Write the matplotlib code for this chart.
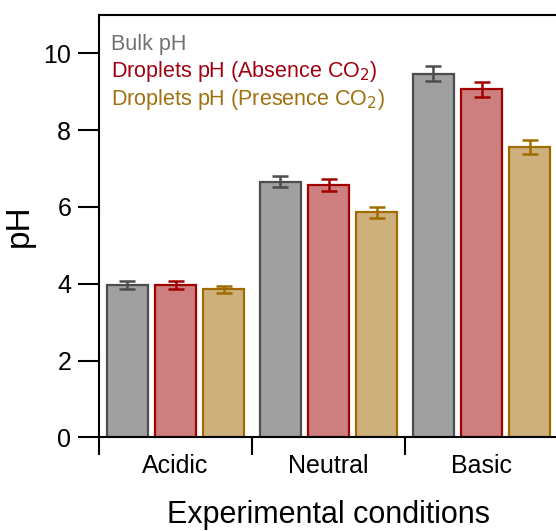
import numpy as np
import matplotlib
matplotlib.use("Agg")
import matplotlib.pyplot as plt

plt.rcParams['font.family'] = ['Liberation Sans', 'DejaVu Sans']

conditions = ["Acidic", "Neutral", "Basic"]
series_names = ["Bulk pH", "Droplets pH (Absence CO$_2$)", "Droplets pH (Presence CO$_2$)"]
bulk_ph = [3.97, 6.66, 9.47]
bulk_err = [0.10, 0.15, 0.19]
abs_ph = [3.97, 6.57, 9.06]
abs_err = [0.10, 0.15, 0.19]
pres_ph = [3.86, 5.86, 7.56]
pres_err = [0.09, 0.14, 0.18]

fills = ["#a0a0a0", "#cd7f7f", "#cdb07c"]
edges = ["#4d4d4d", "#a00000", "#a06c00"]
text_colors = ["#707070", "#a00010", "#a07010"]

fig = plt.figure(figsize=(5.56, 5.31), dpi=100)
ax = fig.add_axes([99 / 556, 1 - 437.3 / 531, 459 / 556, (437.3 - 15) / 531])

x = np.arange(len(conditions))
width = 0.265
offsets = [-0.315, 0.0, 0.315]
values = [bulk_ph, abs_ph, pres_ph]
errors = [bulk_err, abs_err, pres_err]

handles = []
for i in range(3):
    b = ax.bar(x + offsets[i], values[i], width, color=fills[i], edgecolor=edges[i],
               linewidth=1.6, label=series_names[i], zorder=2)
    ax.errorbar(x + offsets[i], values[i], yerr=errors[i], fmt="none", ecolor=edges[i],
                elinewidth=1.8, capsize=6, capthick=1.8, zorder=3)
    handles.append(b)

ax.set_xlim(-0.5, 2.5)
ax.set_ylim(0, 11)
ax.set_yticks([0, 2, 4, 6, 8, 10])

# boundaries get the tick marks, the centres get the labels
ax.set_xticks([-0.5, 0.5, 1.5, 2.5])
ax.set_xticklabels([])
ax.set_xticks(x, minor=True)
ax.set_xticklabels(conditions, minor=True)
ax.tick_params(axis="x", which="minor", length=0, labelsize=18, pad=12)
ax.tick_params(axis="x", which="major", direction="out", length=13, width=1.5)
ax.tick_params(axis="y", direction="out", length=15, width=1.5, labelsize=18, pad=5)

for s in ax.spines.values():
    s.set_linewidth(1.5)

ax.set_ylabel("pH", fontsize=24, labelpad=6)
ax.set_xlabel("Experimental conditions", fontsize=22, labelpad=16)

leg = ax.legend(handles=handles, loc="upper left", frameon=False, fontsize=15.5,
                handlelength=0, handletextpad=0, labelspacing=0.15,
                borderaxespad=0.3, bbox_to_anchor=(-0.006, 0.99))
for h in leg.legend_handles:
    h.set_visible(False)
for t, c in zip(leg.get_texts(), text_colors):
    t.set_color(c)

fig.savefig("out.png", dpi=100)
